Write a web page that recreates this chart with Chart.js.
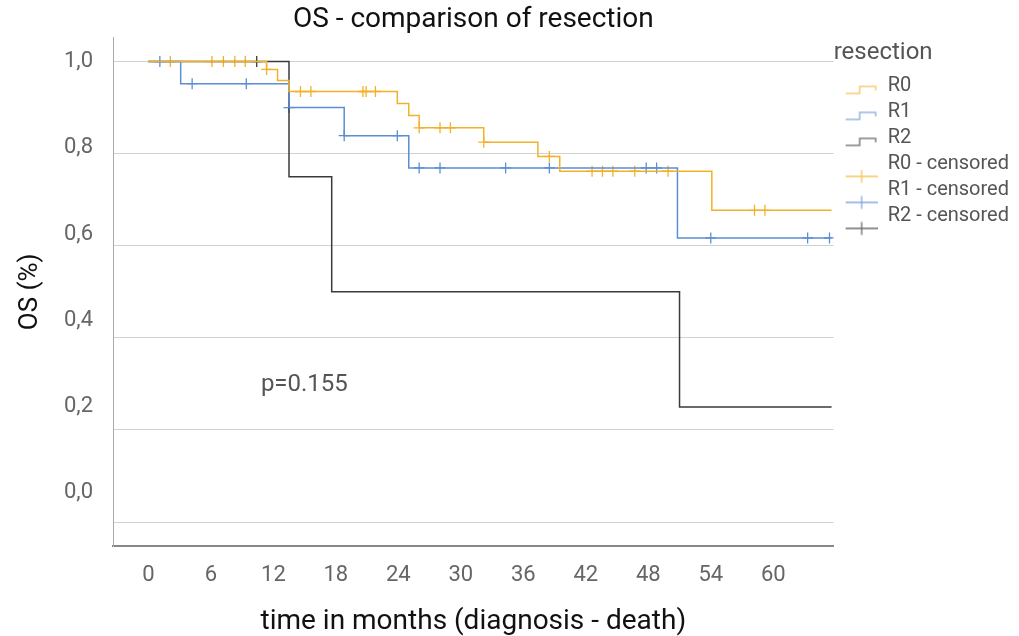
<!DOCTYPE html>
<html>
<head>
<meta charset="utf-8">
<title>OS - comparison of resection</title>
<script src="https://cdn.jsdelivr.net/npm/chart.js@4.4.1/dist/chart.umd.min.js"></script>
<style>
    body { margin: 0; background: #fff; }
    #wrap { width: 1019px; height: 636px; }
</style>
</head>
<body>
<div id="wrap"><canvas id="osChart" width="1019" height="636"></canvas></div>
<script>
// Kaplan-Meier steps (months, survival)
const r0Times = [0, 11.35, 12.4, 13.5, 23.9, 25.0, 26.0, 32.2, 37.4, 39.5, 54.1, 65.6];
const r0Surv  = [1.0, 0.983, 0.959, 0.935, 0.909, 0.883, 0.856, 0.825, 0.794, 0.762, 0.677, 0.677];

const r1Times = [0, 3.1, 13.5, 18.8, 25.0, 50.8, 65.6];
const r1Surv  = [1.0, 0.952, 0.90, 0.839, 0.769, 0.617, 0.617];

const r2Times = [0, 13.5, 17.6, 51.0, 65.6];
const r2Surv  = [1.0, 0.75, 0.5, 0.25, 0.25];

// censored observations
const r0CensTimes = [2.1, 6.1, 7.2, 8.3, 9.3, 11.35, 14.6, 15.6, 20.6, 20.9, 21.8, 26.0, 28.0, 29.0, 32.2, 38.5, 42.6, 43.6, 44.6, 46.7, 49.9, 58.2, 59.2];
const r0CensSurv  = [1, 1, 1, 1, 1, 0.983, 0.935, 0.935, 0.935, 0.935, 0.935, 0.856, 0.856, 0.856, 0.825, 0.794, 0.762, 0.762, 0.762, 0.762, 0.762, 0.677, 0.677];

const r1CensTimes = [1.1, 4.2, 9.4, 13.5, 18.8, 23.9, 26.0, 28.0, 34.3, 38.5, 47.8, 48.8, 54.0, 63.3, 65.4];
const r1CensSurv  = [1, 0.952, 0.952, 0.90, 0.839, 0.839, 0.769, 0.769, 0.769, 0.769, 0.769, 0.769, 0.617, 0.617, 0.617];

const r2CensTimes = [10.4];
const r2CensSurv  = [1];

const groups = ["R0", "R1", "R2"];
const colors = ["#f2b128", "#5b8ed4", "#3a3a3a"];

const xTicks = [0, 6, 12, 18, 24, 30, 36, 42, 48, 54, 60];
const yTicks = [0, 0.2, 0.4, 0.6, 0.8, 1.0];

const pText = "p=0.155";
const pPos = [10.8, 0.298];

const FONT = "Roboto";

function toPoints(xs, ys) {
    return xs.map((x, i) => ({ x: x, y: ys[i] }));
}

function stepIcon(color) {
    const c = document.createElement("canvas");
    c.width = 38; c.height = 24;
    const g = c.getContext("2d");
    g.globalAlpha = 0.65;
    g.strokeStyle = color;
    g.lineWidth = 1.5;
    g.beginPath();
    g.moveTo(6, 19); g.lineTo(20, 19); g.lineTo(20, 12);
    g.lineTo(36, 12); g.lineTo(36, 16);
    g.stroke();
    return c;
}

function crossIcon(color) {
    const c = document.createElement("canvas");
    c.width = 38; c.height = 48;
    const g = c.getContext("2d");
    g.globalAlpha = 0.75;
    g.strokeStyle = color;
    g.lineWidth = 1.3;
    g.beginPath();
    g.moveTo(6, 36); g.lineTo(38, 36);
    g.moveTo(22, 29.5); g.lineTo(22, 42.5);
    g.stroke();
    return c;
}

const curves = [[r0Times, r0Surv], [r1Times, r1Surv], [r2Times, r2Surv]];
const censored = [[r0CensTimes, r0CensSurv], [r1CensTimes, r1CensSurv], [r2CensTimes, r2CensSurv]];

const datasets = [];
curves.forEach((c, i) => {
    datasets.push({
        label: groups[i],
        data: toPoints(c[0], c[1]),
        borderColor: colors[i],
        borderWidth: 1.5,
        stepped: true,
        pointRadius: 0,
        fill: false
    });
});
censored.forEach((c, i) => {
    datasets.push({
        label: groups[i] + " - censored",
        data: toPoints(c[0], c[1]),
        showLine: false,
        pointStyle: "cross",
        pointRadius: 5.5,
        pointBorderWidth: 1.3,
        pointBorderColor: colors[i],
        borderColor: colors[i]
    });
});

const legendIcons = colors.map(stepIcon).concat(colors.map(crossIcon));

const pValuePlugin = {
    id: "pValue",
    afterDatasetsDraw(chart) {
        const { ctx, scales: { x, y } } = chart;
        ctx.save();
        ctx.font = "24px " + FONT;
        ctx.fillStyle = "#555";
        ctx.textBaseline = "middle";
        ctx.fillText(pText, x.getPixelForValue(pPos[0]), y.getPixelForValue(pPos[1]));
        ctx.restore();
    }
};

new Chart(document.getElementById("osChart"), {
    type: "line",
    data: { datasets: datasets },
    plugins: [pValuePlugin],
    options: {
        responsive: false,
        animation: false,
        events: [],
        layout: { padding: 0 },
        plugins: {
            tooltip: { enabled: false },
            title: {
                display: true,
                text: "OS - comparison of resection",
                fullSize: false,
                color: "#111",
                font: { family: FONT, size: 28, weight: "normal" },
                padding: { top: 3, bottom: 1 }
            },
            legend: {
                position: "right",
                align: "start",
                fullSize: false,
                maxWidth: 220,
                title: {
                    display: true,
                    text: "resection",
                    position: "start",
                    color: "#555",
                    font: { family: FONT, size: 24 },
                    padding: { top: 3, bottom: 1 }
                },
                labels: {
                    usePointStyle: true,
                    pointStyleWidth: 38,
                    padding: 6,
                    color: "#555",
                    font: { family: FONT, size: 20 },
                    generateLabels: chart => chart.data.datasets.map((ds, i) => ({
                        text: ds.label,
                        datasetIndex: i,
                        pointStyle: legendIcons[i],
                        fontColor: "#555",
                        fillStyle: "rgba(0,0,0,0)",
                        strokeStyle: "rgba(0,0,0,0)",
                        lineWidth: 0,
                        hidden: false
                    }))
                }
            }
        },
        scales: {
            x: {
                type: "linear",
                min: -3.4,
                max: 65.8,
                afterBuildTicks: axis => { axis.ticks = xTicks.map(v => ({ value: v })); },
                grid: { display: false, drawTicks: false },
                border: { display: true, color: "#888", width: 2 },
                ticks: {
                    autoSkip: false,
                    maxRotation: 0,
                    padding: 16,
                    color: "#666",
                    font: { family: FONT, size: 22 }
                },
                title: {
                    display: true,
                    text: "time in months (diagnosis - death)",
                    color: "#111",
                    font: { family: FONT, size: 28 },
                    padding: { top: 1, bottom: -3 }
                }
            },
            y: {
                type: "linear",
                position: "left",
                weight: 0,
                min: -0.052,
                max: 1.052,
                afterBuildTicks: axis => { axis.ticks = yTicks.map(v => ({ value: v })); },
                afterFit: axis => { axis.width = 0; },
                grid: { color: "#d2d2d2", lineWidth: 1, drawTicks: false },
                border: { display: true, color: "#aaa", width: 1 },
                ticks: { display: false }
            },
            yLabels: {
                type: "linear",
                position: "left",
                weight: 1,
                min: -0.123,
                max: 1.0557,
                afterBuildTicks: axis => { axis.ticks = yTicks.map(v => ({ value: v })); },
                afterFit: axis => { axis.width = 113; },
                grid: { display: false, drawTicks: false },
                border: { display: false },
                ticks: {
                    autoSkip: false,
                    padding: 20,
                    color: "#666",
                    font: { family: FONT, size: 22 },
                    callback: v => v.toFixed(1).replace(".", ",")
                },
                title: {
                    display: true,
                    text: "OS (%)",
                    color: "#111",
                    font: { family: FONT, size: 26 },
                    padding: { top: 15, bottom: 0 }
                }
            }
        }
    }
});
</script>
</body>
</html>
